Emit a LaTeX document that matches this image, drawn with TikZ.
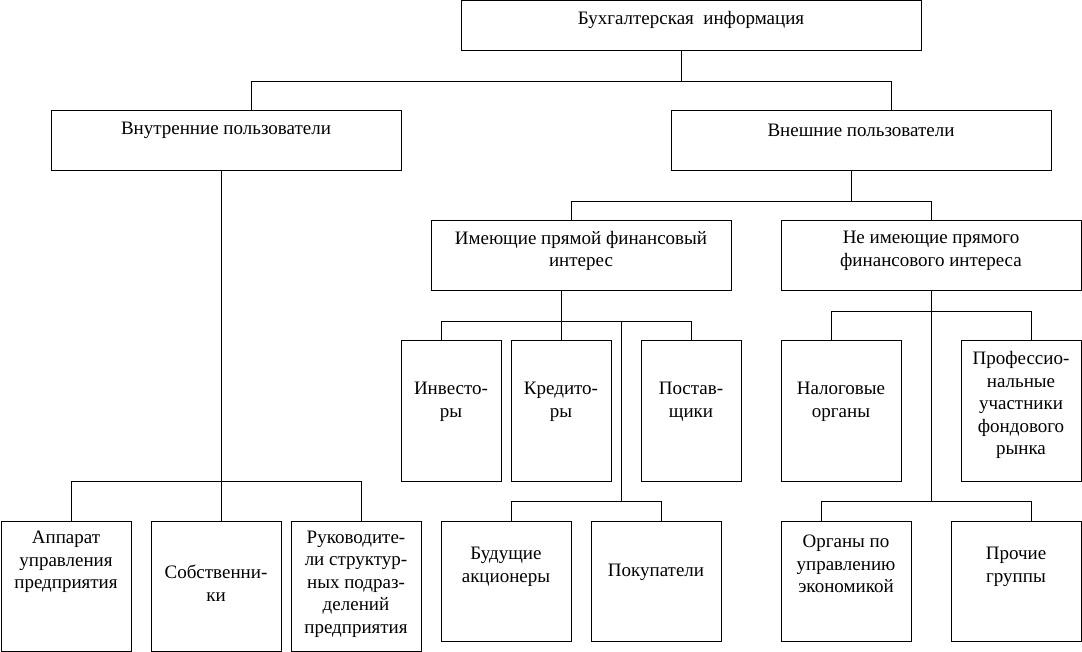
\documentclass[tikz,border=0pt]{standalone}
\usepackage{fontspec}
\setmainfont{Liberation Serif}
\usetikzlibrary{positioning}

\begin{document}
\begin{tikzpicture}[
    x=1pt, y=-1pt,
    box/.style={draw, line width=1pt, inner sep=0pt},
    txt/.style={align=center, inner sep=0pt, font=\fontsize{19}{22.5}\selectfont},
    link/.style={line width=0.9pt}
]
    \useasboundingbox (0,0) rectangle (1082,652);

    % Top level
    \node[box, minimum width=460pt, minimum height=50pt] (info) at (691,26) {};
    \node[txt] (info-t) at (691,20) {Бухгалтерская\ \ информация};

    % Users
    \node[box, minimum width=350pt, minimum height=60pt] (int) at (226,141) {};
    \node[txt] (int-t) at (226,130) {Внутренние пользователи};
    \node[box, minimum width=380pt, minimum height=60pt] (ext) at (861,141) {};
    \node[txt] (ext-t) at (861,130) {Внешние пользователи};

    % External groups
    \node[box, minimum width=300pt, minimum height=70pt] (dir) at (581,256) {};
    \node[txt] (dir-t) at (581,251) {Имеющие прямой финансовый\\интерес};
    \node[box, minimum width=300pt, minimum height=70pt] (ndir) at (931,256) {};
    \node[txt] (ndir-t) at (931,251) {Не имеющие прямого\\финансового интереса};

    % Direct interest
    \node[box, minimum width=100pt, minimum height=140pt] (inv) at (451,411) {};
    \node[txt] (inv-t) at (451,402) {Инвесто-\\ры};
    \node[box, minimum width=100pt, minimum height=140pt] (cred) at (561,411) {};
    \node[txt] (cred-t) at (561,402) {Кредито-\\ры};
    \node[box, minimum width=100pt, minimum height=140pt] (sup) at (691,411) {};
    \node[txt] (sup-t) at (691,402) {Постав-\\щики};
    \node[box, minimum width=130pt, minimum height=120pt] (fut) at (506,581) {};
    \node[txt] (fut-t) at (506,567) {Будущие\\акционеры};
    \node[box, minimum width=130pt, minimum height=120pt] (buy) at (656,581) {};
    \node[txt] (buy-t) at (656,572) {Покупатели};

    % No direct interest
    \node[box, minimum width=120pt, minimum height=140pt] (tax) at (841,411) {};
    \node[txt] (tax-t) at (841,402) {Налоговые\\органы};
    \node[box, minimum width=120pt, minimum height=140pt] (prof) at (1021,411) {};
    \node[txt] (prof-t) at (1021,405) {Профессио-\\нальные\\участники\\фондового\\рынка};
    \node[box, minimum width=130pt, minimum height=120pt] (gov) at (846,581) {};
    \node[txt] (gov-t) at (846,564) {Органы по\\управлению\\экономикой};
    \node[box, minimum width=130pt, minimum height=120pt] (oth) at (1016,581) {};
    \node[txt] (oth-t) at (1016,567) {Прочие\\группы};

    % Internal
    \node[box, minimum width=130pt, minimum height=130pt] (app) at (66,586) {};
    \node[txt] (app-t) at (66,562) {Аппарат\\управления\\предприятия};
    \node[box, minimum width=130pt, minimum height=130pt] (own) at (216,586) {};
    \node[txt] (own-t) at (216,583) {Собственни-\\ки};
    \node[box, minimum width=130pt, minimum height=130pt] (head) at (356,586) {};
    \node[txt] (head-t) at (356,584) {Руководите-\\ли структур-\\ных подраз-\\делений\\предприятия};

    % Connectors
    \draw[link] ([xshift=-10pt]info.south) -- ++(0,30) coordinate (j1);
    \draw[link] ([xshift=25pt]int.north) |- (j1) -| ([xshift=30pt]ext.north);

    \draw[link] ([xshift=-5pt]int.south) -- ++(0,310) coordinate (j2);
    \draw[link] ([xshift=5pt]app.north) |- (j2) -| ([xshift=5pt]head.north);
    \draw[link] (j2) -- ([xshift=5pt]own.north);

    \draw[link] ([xshift=-10pt]ext.south) -- ++(0,30) coordinate (j3);
    \draw[link] ([xshift=-10pt]dir.north) |- (j3) -| (ndir.north);

    \draw[link] ([xshift=-20pt]dir.south) -- ++(0,30) coordinate (j4);
    \draw[link] ([xshift=-10pt]inv.north) |- (j4) -| (sup.north);
    \draw[link] (j4) -- (cred.north);
    \coordinate (j5) at ([xshift=60pt]j4);
    \draw[link] (j5) -- ++(0,180) coordinate (j6);
    \draw[link] ([xshift=5pt]fut.north) |- (j6) -| ([xshift=5pt]buy.north);

    \coordinate (j7) at ([yshift=-20pt]ndir.south);
    \draw[link] (ndir.south) -- ++(0,210) coordinate (j8);
    \draw[link] ([xshift=-10pt]tax.north) |- (j7) -| ([xshift=10pt]prof.north);
    \draw[link] ([xshift=-25pt]gov.north) |- (j8) -| ([xshift=15pt]oth.north);
\end{tikzpicture}
\end{document}
